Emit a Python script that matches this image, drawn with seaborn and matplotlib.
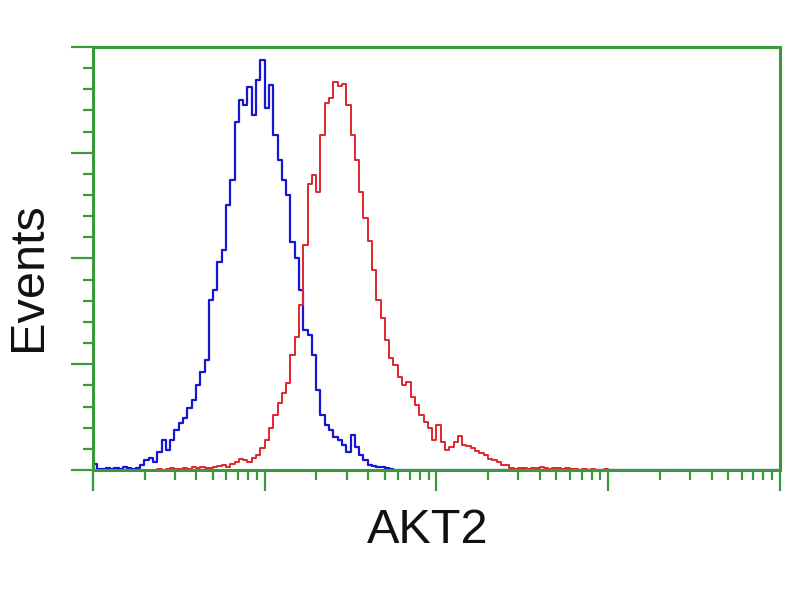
import numpy as np
import pandas as pd
import matplotlib
matplotlib.use('Agg')
import matplotlib.pyplot as plt
import matplotlib.ticker as mticker
import seaborn as sns

# histogram channels: 160 log-spaced bins over 4 decades
n_bins = 160
x_min, x_max = 1, 10000

# counts (blue = control, red = AKT2 stained)
blue_start = 0
blue_counts = [6, 1, 1, 2, 1, 2, 1, 3, 2, 1, 2, 5, 9, 11, 8, 17, 28, 19, 28, 38,
               44, 49, 59, 66, 80, 93, 104, 161, 170, 197, 208, 251, 274, 329, 350,
               345, 362, 336, 369, 388, 342, 364, 317, 293, 274, 260, 216, 200, 170,
               132, 128, 109, 76, 52, 43, 38, 31, 28, 24, 17, 33, 22, 14, 9, 5, 4,
               3, 3, 2, 1, 0]

red_start = 15
red_counts = [1, 0, 1, 2, 1, 1, 2, 1, 3, 2, 3, 2,
              2, 3, 4, 5, 3, 6, 8, 10, 9, 8, 11, 14, 21, 28, 40, 52, 63, 73, 82,
              109, 126, 156, 213, 270, 279, 263, 317, 347, 352, 367, 363, 365, 345,
              317, 293, 263, 238, 217, 189, 161, 144, 123, 106, 99, 88, 80, 83, 69,
              61, 52, 45, 40, 28, 43, 26, 19, 22, 26, 32, 24, 23, 21, 18, 16, 14,
              10, 9, 8, 5, 5, 2, 1, 2,
              2, 1, 2, 2, 3, 2, 1, 2, 2, 1, 2, 1, 1, 0, 1, 0, 1, 0, 0, 1, 0]

decades = [1, 10, 100, 1000, 10000]
green = '#3a9a3a'

edges = np.logspace(np.log10(x_min), np.log10(x_max), n_bins + 1)
centers = np.sqrt(edges[:-1] * edges[1:])
minor_x = [m * d for d in decades[:-1] for m in range(2, 10)]


def full_series(start, counts):
    vals = np.zeros(n_bins)
    vals[start:start + len(counts)] = counts
    return vals


df = pd.DataFrame({
    'channel': centers,
    'blue': full_series(blue_start, blue_counts),
    'red': full_series(red_start, red_counts),
})

sns.set_style('white')
plt.rcParams['font.family'] = ['Liberation Sans', 'DejaVu Sans']

fig = plt.figure(figsize=(8, 6), dpi=100)
ax = fig.add_axes([0.116, 0.2167, 0.859, 0.705])

sns.lineplot(data=df, x='channel', y='blue', color='#1515d2', lw=1.6,
             drawstyle='steps-mid', estimator=None, sort=False, ax=ax)
sns.lineplot(data=df, x='channel', y='red', color='#e0262e', lw=1.4,
             drawstyle='steps-mid', estimator=None, sort=False, ax=ax)

ax.set_xscale('log')
ax.set_xlim(x_min, x_max)
ax.set_ylim(0, 400)

for s in ax.spines.values():
    s.set_color(green)
    s.set_linewidth(2.2)

ax.xaxis.set_major_locator(mticker.FixedLocator(decades))
ax.xaxis.set_minor_locator(mticker.FixedLocator(minor_x))
ax.yaxis.set_major_locator(mticker.MultipleLocator(100))
ax.yaxis.set_minor_locator(mticker.MultipleLocator(20))
ax.xaxis.set_major_formatter(mticker.NullFormatter())
ax.xaxis.set_minor_formatter(mticker.NullFormatter())
ax.yaxis.set_major_formatter(mticker.NullFormatter())

ax.tick_params(which='both', direction='out', color=green, width=1.6,
               bottom=True, left=True, top=False, right=False)
ax.tick_params(axis='x', which='major', length=15)
ax.tick_params(axis='x', which='minor', length=7)
ax.tick_params(axis='y', which='major', length=16)
ax.tick_params(axis='y', which='minor', length=7)

ax.set_xlabel('AKT2', fontsize=35, color='#111111')
ax.set_ylabel('Events', fontsize=35, color='#111111')
ax.xaxis.label.set_va('center')
ax.yaxis.label.set_va('center')
ax.xaxis.set_label_coords(0.4876, -0.142)
ax.yaxis.set_label_coords(-0.094, 0.456)

fig.savefig('out.png', dpi=100)
